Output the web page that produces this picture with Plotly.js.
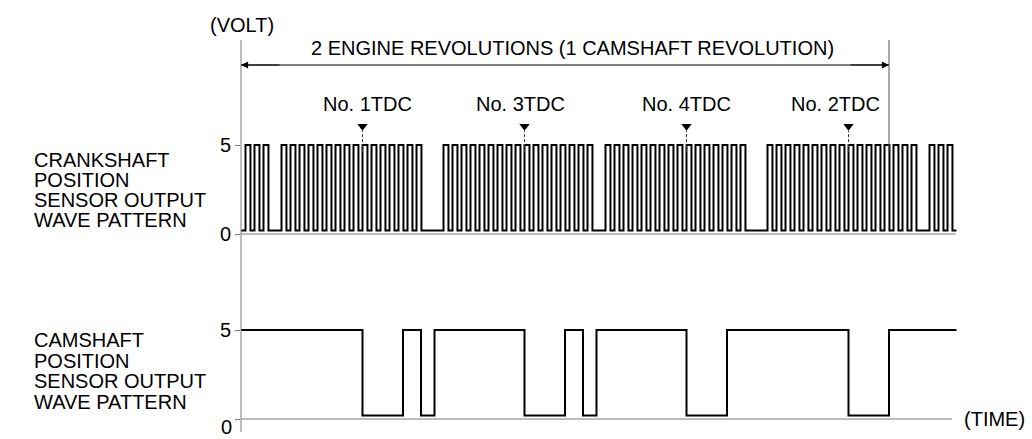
<!DOCTYPE html>
<html>
<head>
<meta charset="utf-8">
<script src="https://cdn.plot.ly/plotly-3.0.1.min.js"></script>
<style>html,body{margin:0;padding:0;background:#fff;}#chart{width:1032px;height:439px;}</style>
</head>
<body>
<div id="chart"></div>
<script>
// ---- data (crank angle in degrees, voltage in volts) ----
const crankRise = [5,15,25,
  45,55,65,75,85,95,105,115,125,135,145,155,165,175,185,195,
  225,235,245,255,265,275,285,295,305,315,325,335,345,355,365,375,385,
  405,415,425,435,445,455,465,475,485,495,505,515,525,535,545,555,
  585,595,605,615,625,635,645,655,665,675,685,695,705,715,725,735,745,
  765,775,785];
const crankFall = [10.5,20.5,30.5,
  50.5,60.5,70.5,80.5,90.5,100.5,110.5,120.5,130.5,140.5,150.5,160.5,170.5,180.5,190.5,200.5,
  230.5,240.5,250.5,260.5,270.5,280.5,290.5,300.5,310.5,320.5,330.5,340.5,350.5,360.5,370.5,380.5,390.5,
  410.5,420.5,430.5,440.5,450.5,460.5,470.5,480.5,490.5,500.5,510.5,520.5,530.5,540.5,550.5,560.5,
  590.5,600.5,610.5,620.5,630.5,640.5,650.5,660.5,670.5,680.5,690.5,700.5,710.5,720.5,730.5,740.5,750.5,
  770.5,780.5,790.5];
const crankStart = 0, crankEnd = 795;
const highVolt = 5, lowVolt = 0.2;

const camEdges  = [0, 135, 180, 200, 215, 315, 360, 380, 395, 495, 540, 675, 720, 795];
const camLevels = [5, 0.2, 5, 0.2, 5, 0.2, 5, 0.2, 5, 0.2, 5, 0.2, 5, 5];

const tdcAngles = [135, 315, 495, 675];
const tdcLabels = ["No. 1TDC", "No. 3TDC", "No. 4TDC", "No. 2TDC"];
const revolutionSpan = [0, 720];
const yTicks = [0, 5];
const yTickText = ["0", "5"];

// ---- build step series ----
const cx = [crankStart], cy = [lowVolt];
for (let i = 0; i < crankRise.length; i++) {
  cx.push(crankRise[i]); cy.push(highVolt);
  cx.push(crankFall[i]); cy.push(lowVolt);
}
cx.push(crankEnd); cy.push(lowVolt);

// ---- layout geometry (pixels) ----
const H = 439, L = 241, PW = 720;
const pyToPaper = py => (H - py) / H;
const pxToPaper = px => (px - L) / PW;
const ppv = 17.8;
const crankZeroPx = 234, camZeroPx = 419;
const crankRange = [-1, 7], camRange = [-1, 6];
const dom = (zeroPx, r) => [pyToPaper(zeroPx - r[0]*ppv), pyToPaper(zeroPx - r[1]*ppv)];

const FONT = {family: "Liberation Sans, Arial, sans-serif", size: 20, color: "#000"};
const AXC = "#7a7a7a";

const traces = [
  {x: cx, y: cy, type: "scatter", mode: "lines", line: {shape: "hv", color: "#000", width: 2},
   xaxis: "x", yaxis: "y", hoverinfo: "skip", showlegend: false},
  {x: camEdges, y: camLevels, type: "scatter", mode: "lines", line: {shape: "hv", color: "#000", width: 2},
   xaxis: "x", yaxis: "y2", hoverinfo: "skip", showlegend: false},
  {x: tdcAngles, y: tdcAngles.map(() => 6.05), type: "scatter", mode: "markers",
   marker: {symbol: "triangle-down", size: 9, color: "#000"}, cliponaxis: false,
   xaxis: "x", yaxis: "y", hoverinfo: "skip", showlegend: false}
];

const shapes = [];
// vertical axis line
shapes.push({type: "line", xref: "paper", yref: "paper", x0: 0, x1: 0,
  y0: pyToPaper(432), y1: pyToPaper(40), line: {color: AXC, width: 1}});
// right bracket line
shapes.push({type: "line", xref: "x", yref: "paper", x0: revolutionSpan[1], x1: revolutionSpan[1],
  y0: pyToPaper(151), y1: pyToPaper(40), line: {color: "#555", width: 1}});
// span line between arrowheads
shapes.push({type: "line", xref: "x", yref: "paper", x0: revolutionSpan[0], x1: revolutionSpan[1],
  y0: pyToPaper(65), y1: pyToPaper(65), line: {color: "#000", width: 1.1}});
// zero lines
shapes.push({type: "line", xref: "x", yref: "y", x0: 0, x1: 794, y0: 0, y1: 0, line: {color: AXC, width: 1}});
shapes.push({type: "line", xref: "x", yref: "y2", x0: 0, x1: 790, y0: 0, y1: 0, line: {color: AXC, width: 1}});
// TDC dashed markers
tdcAngles.forEach(a => shapes.push({type: "line", xref: "x", yref: "y", x0: a, x1: a, y0: 4.6, y1: 5.8,
  line: {color: "#333", width: 1, dash: "3px,2px"}}));

const annotations = [];
const txt = (text, x, xref, py, xanchor, extra) => Object.assign({
  text, x, xref, y: pyToPaper(py), yref: "paper", xanchor: xanchor || "center", yanchor: "middle",
  showarrow: false, font: FONT}, extra || {});

annotations.push(txt("(VOLT)", pxToPaper(242), "paper", 25, "center"));
annotations.push(txt("2 ENGINE REVOLUTIONS (1 CAMSHAFT REVOLUTION)", 368, "x", 48, "center"));
annotations.push(txt("(TIME)", pxToPaper(962), "paper", 419, "left"));
annotations.push(txt(yTickText[0], pxToPaper(234), "paper", 427, "right"));
const tdcShift = [5, -4, 0, -13];
tdcLabels.forEach((t, i) => annotations.push(txt(t, tdcAngles[i], "x", 104, "center", {xshift: tdcShift[i]})));
["CRANKSHAFT", "POSITION", "SENSOR OUTPUT", "WAVE PATTERN"].forEach((t, i) =>
  annotations.push(txt(t, pxToPaper(32), "paper", 160 + 20*i, "left")));
["CAMSHAFT", "POSITION", "SENSOR OUTPUT", "WAVE PATTERN"].forEach((t, i) =>
  annotations.push(txt(t, pxToPaper(32), "paper", 340 + 20.5*i, "left")));

// arrowheads at both ends of the span
[[revolutionSpan[0], 40], [revolutionSpan[1], -40]].forEach(([end, tail]) => annotations.push({
  text: "", x: end, xref: "x", y: pyToPaper(65), yref: "paper",
  ax: tail, axref: "pixel", ay: 0, ayref: "pixel",
  showarrow: true, arrowhead: 2, arrowsize: 1.3, arrowwidth: 1.1, arrowcolor: "#000", standoff: 0
}));

const yaxCommon = {tickvals: yTicks, ticktext: yTickText, ticks: "outside", ticklen: 5, tickcolor: AXC,
  tickwidth: 1, showgrid: false, zeroline: false, showline: false, tickfont: FONT, fixedrange: true};

const layout = {
  width: 1032, height: 439,
  margin: {l: L, r: 1032 - L - PW, t: 0, b: 0, pad: 0},
  paper_bgcolor: "#fff", plot_bgcolor: "rgba(0,0,0,0)",
  showlegend: false,
  xaxis: {range: [0, 800], visible: false, fixedrange: true},
  yaxis: Object.assign({}, yaxCommon, {range: crankRange, domain: dom(crankZeroPx, crankRange), anchor: "x"}),
  yaxis2: Object.assign({}, yaxCommon, {range: camRange, domain: dom(camZeroPx, camRange), anchor: "x",
    ticktext: ["", yTickText[1]]}),
  shapes, annotations
};

Plotly.newPlot("chart", traces, layout, {staticPlot: true, displayModeBar: false});
</script>
</body>
</html>
